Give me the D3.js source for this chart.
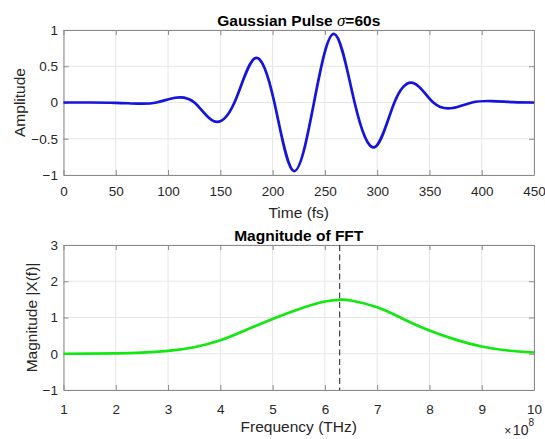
<!DOCTYPE html>
<html>
<head>
<meta charset="utf-8">
<script src="https://cdn.jsdelivr.net/npm/d3@7"></script>
<style>
  body { margin: 0; background: #fff; }
  svg { display: block; font-family: "Liberation Sans", Arial, sans-serif; }
  .grid line { stroke: #e6e6e6; stroke-width: 1; }
  .ax path, .ax line { stroke: #8a8a8a; }
  .ax text { fill: #262626; font-size: 13.5px; }
</style>
</head>
<body>
<div id="root"></div>
<script>
const W = 545, H = 439

// top panel: pulse (extrema and zero crossings)
const pulseT = [0, 25, 50, 71.5, 89, 106.6, 125.2, 143.9, 163.5, 183.1, 201.7, 220.3, 239.6, 259, 278.4, 297.9, 316.5, 335.2, 353.7, 372.2, 390.8, 409.5, 430, 450]
const pulseA = [0, 0, -0.004, -0.016, 0, 0.066, 0, -0.26, 0, 0.61, 0, -0.945, 0, 0.945, 0, -0.615, 0, 0.265, 0, -0.076, 0, 0.02, 0.006, 0]
const timeTicks = [0, 50, 100, 150, 200, 250, 300, 350, 400, 450]
const ampTicks = [-1, -0.5, 0, 0.5, 1]

// bottom panel: FFT magnitude (x in units of 1e8)
const freqX = [1, 1.5, 2, 2.5, 3, 3.5, 4, 4.5, 5, 5.5, 6, 6.28, 6.5, 7, 7.5, 8, 8.5, 9, 9.5, 10]
const freqMag = [0, 0.002, 0.01, 0.03, 0.08, 0.18, 0.37, 0.66, 0.96, 1.23, 1.44, 1.49, 1.47, 1.28, 0.96, 0.64, 0.39, 0.2, 0.09, 0.035]
const peakFreq = 6.2832
const freqTicks = [1, 2, 3, 4, 5, 6, 7, 8, 9, 10]
const magTicks = [-1, 0, 1, 2, 3]

const left = 63.5, right = 534

const svg = d3.select("#root").append("svg")
    .attr("width", W)
    .attr("height", H)

svg.append("rect").attr("width", W).attr("height", H).attr("fill", "#fff")

function panel(opt) {
    const x = d3.scaleLinear().domain(opt.xdom).range([left, right])
    const y = d3.scaleLinear().domain(opt.ydom).range([opt.bottom, opt.top])
    const g = svg.append("g")

    // grid
    const grid = g.append("g").attr("class", "grid")
    grid.selectAll("line.gx").data(opt.xticks).join("line")
        .attr("x1", d => x(d)).attr("x2", d => x(d))
        .attr("y1", opt.top).attr("y2", opt.bottom)
    grid.selectAll("line.gy").data(opt.yticks).join("line")
        .attr("x1", left).attr("x2", right)
        .attr("y1", d => y(d)).attr("y2", d => y(d))

    // box + inward ticks on all sides
    g.append("g").attr("class", "ax")
        .attr("transform", "translate(0," + opt.bottom + ")")
        .call(d3.axisBottom(x).tickValues(opt.xticks).tickSizeInner(-5).tickSizeOuter(0).tickPadding(opt.xpad)
            .tickFormat(d3.format("")))
    g.append("g").attr("class", "ax")
        .attr("transform", "translate(0," + opt.top + ")")
        .call(d3.axisTop(x).tickValues(opt.xticks).tickSizeInner(-5).tickSizeOuter(0).tickFormat(""))
    g.append("g").attr("class", "ax")
        .attr("transform", "translate(" + left + ",0)")
        .call(d3.axisLeft(y).tickValues(opt.yticks).tickSizeInner(-5).tickSizeOuter(0).tickPadding(5.5)
            .tickFormat(d3.format("")))
    g.append("g").attr("class", "ax")
        .attr("transform", "translate(" + right + ",0)")
        .call(d3.axisRight(y).tickValues(opt.yticks).tickSizeInner(-5).tickSizeOuter(0).tickFormat(""))
    g.selectAll(".ax text").attr("font-family", null).attr("font-size", null)

    const line = d3.line()
        .x(d => x(d[0]))
        .y(d => y(d[1]))
        .curve(d3.curveNatural)

    return {x, y, g, line}
}

// ---- top
const p1 = panel({
    xdom: [0, 450], ydom: [-1, 1], top: 30, bottom: 175,
    xticks: timeTicks, yticks: ampTicks, xpad: 11.7
})
p1.g.append("path")
    .datum(d3.zip(pulseT, pulseA))
    .attr("fill", "none")
    .attr("stroke", "#1414dc")
    .attr("stroke-width", 2.7)
    .attr("stroke-linejoin", "round")
    .attr("d", p1.line)

const t1 = svg.append("text")
    .attr("x", (left + right) / 2).attr("y", 26)
    .attr("text-anchor", "middle")
    .attr("font-weight", "bold").attr("font-size", 15.5).attr("fill", "#000")
t1.append("tspan").text("Gaussian Pulse ")
t1.append("tspan").text("σ").attr("font-style", "italic").attr("font-weight", "normal")
    .attr("font-family", '"Liberation Serif", serif').attr("font-size", 17)
t1.append("tspan").text("=60s")

svg.append("text")
    .attr("x", (left + right) / 2).attr("y", 218)
    .attr("text-anchor", "middle").attr("font-size", 15.5).attr("fill", "#262626")
    .text("Time (fs)")

svg.append("text")
    .attr("transform", "translate(25," + (30 + 175) / 2 + ") rotate(-90)")
    .attr("text-anchor", "middle").attr("font-size", 15.5).attr("fill", "#262626")
    .text("Amplitude")

// ---- bottom
const p2 = panel({
    xdom: [1, 10], ydom: [-1, 3], top: 245, bottom: 390,
    xticks: freqTicks, yticks: magTicks, xpad: 14.5
})
p2.g.append("line")
    .attr("x1", p2.x(peakFreq)).attr("x2", p2.x(peakFreq))
    .attr("y1", 245).attr("y2", 390)
    .attr("stroke", "#1a1a1a").attr("stroke-width", 1)
    .attr("stroke-dasharray", "6,3.5")
p2.g.append("path")
    .datum(d3.zip(freqX, freqMag))
    .attr("fill", "none")
    .attr("stroke", "#10e810")
    .attr("stroke-width", 2.7)
    .attr("d", p2.line)

svg.append("text")
    .attr("x", (left + right) / 2).attr("y", 240.5)
    .attr("text-anchor", "middle")
    .attr("font-weight", "bold").attr("font-size", 15.5).attr("fill", "#000")
    .text("Magnitude of FFT")

svg.append("text")
    .attr("x", (left + right) / 2).attr("y", 431.5)
    .attr("text-anchor", "middle").attr("font-size", 15.5).attr("fill", "#262626")
    .text("Frequency (THz)")

svg.append("text")
    .attr("transform", "translate(36.5," + (245 + 390) / 2 + ") rotate(-90)")
    .attr("text-anchor", "middle").attr("font-size", 15.5).attr("fill", "#262626")
    .text("Magnitude |X(f)|")

const ex = svg.append("text")
    .attr("x", 534).attr("y", 434.5)
    .attr("text-anchor", "end").attr("font-size", 14).attr("fill", "#262626")
ex.append("tspan").text("×").attr("font-size", 12)
ex.append("tspan").text("10").attr("dx", 1.5)
ex.append("tspan").text("8").attr("font-size", 10).attr("dy", -8.5)
</script>
</body>
</html>
